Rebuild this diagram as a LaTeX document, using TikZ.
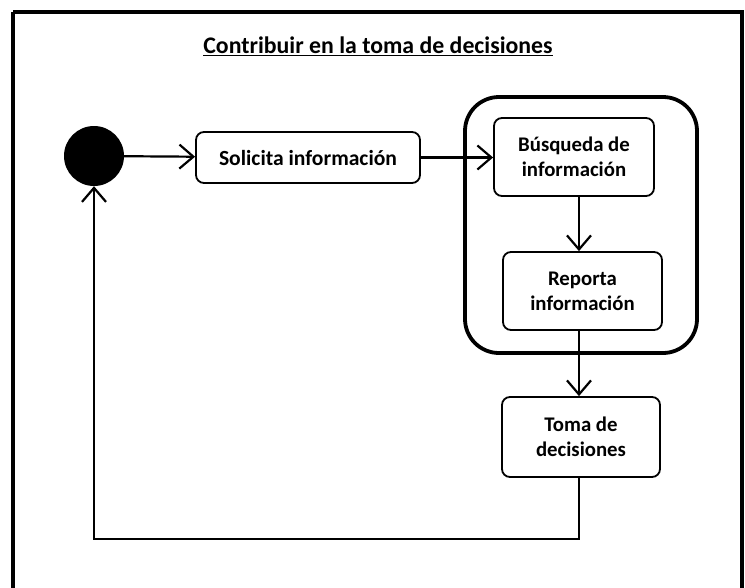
\documentclass[tikz,border=0pt]{standalone}
\usepackage{fontspec}
\setmainfont{Carlito}
\usetikzlibrary{arrows.meta}
\begin{document}
\begin{tikzpicture}[x=1pt,y=-1pt,
  actbox/.style={draw, line width=1.8pt, rounded corners=8pt, align=center,
    font=\fontsize{20.8}{25}\selectfont\bfseries, inner sep=0pt},
  arr/.style={line width=2.2pt, -{Straight Barb[length=14pt,width=24pt,line width=2.2pt]}},
  plain/.style={line width=2.2pt}]
\useasboundingbox (0,0) rectangle (745,587);
\clip (0,0) rectangle (745,587);
% frame
\draw[line width=3.5pt] (13,12) -- (742,12) -- (742,620) (13,12) -- (13,620);
% title
\node (title) at (378,46) {\fontsize{23.8}{28}\selectfont\bfseries\underline{Contribuir en la toma de decisiones}};
% container
\node[draw, line width=3.8pt, rounded corners=34pt, minimum width=232pt, minimum height=256pt] (cont) at (581,225) {};
% start
\node[circle, fill=black, minimum size=60pt, inner sep=0pt] (start) at (94,156) {};
% activities
\node[actbox, minimum width=224pt, minimum height=51pt, font=\fontsize{21.6}{25}\selectfont\bfseries] (sol) at (308,157.5) {Solicita información};
\node[actbox, minimum width=160pt, minimum height=78pt] (bus) at (574,157) {Búsqueda de\\información};
\node[actbox, minimum width=159pt, minimum height=78pt] (rep) at (582.5,291) {Reporta\\información};
\node[actbox, minimum width=158pt, minimum height=80pt] (toma) at (581,437) {Toma de\\decisiones};
% connectors
\coordinate (vx) at (579,0);
\coordinate (retc) at (94,539);
\draw[arr] (start) -- (sol);
\draw[arr] (sol.east) -- (bus.west |- sol.east);
\draw[arr] (bus.south -| vx) -- (rep.north -| vx);
\draw[arr] (rep.south -| vx) -- (toma.north -| vx);
\draw[arr] (toma.south -| vx) |- (retc) -- (start.south);
\end{tikzpicture}
\end{document}
